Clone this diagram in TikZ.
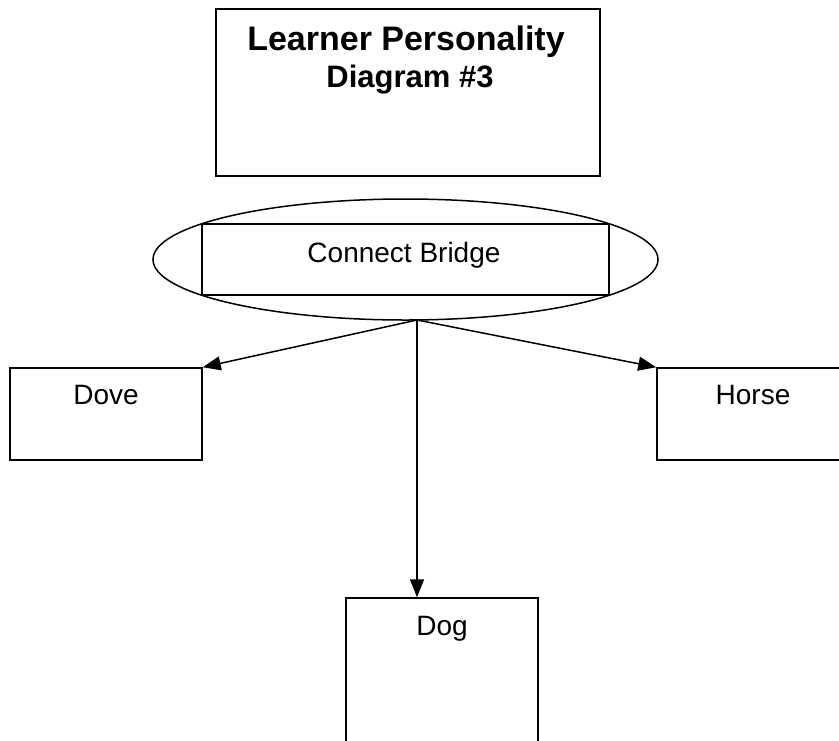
\documentclass[tikz,border=0pt]{standalone}
\usepackage{fontspec}
\setmainfont{Liberation Sans}
\usetikzlibrary{shapes.geometric,arrows.meta}
\tikzset{
 box/.style={draw,line width=1.5pt,rectangle,inner sep=0pt},
 txt/.style={inner sep=0pt,anchor=base,font=\fontsize{28}{32}\selectfont},
 link/.style={line width=1.5pt,-{Triangle[length=18pt,width=14pt]}}
}
\begin{document}
\begin{tikzpicture}[x=1pt,y=-1pt]
\path[use as bounding box,clip] (0,0) rectangle (839,740);
% title
\node[box,minimum width=384pt,minimum height=167pt] (title) at (408,92.5) {};
\node[txt,font=\bfseries\fontsize{34}{38}\selectfont] (titlea) at (406,50) {Learner Personality};
\node[txt,font=\bfseries\fontsize{31}{36}\selectfont] (titleb) at (410,87) {Diagram \#3};
% bridge
\node[draw,ellipse,line width=1.5pt,minimum width=505pt,minimum height=121pt] (ring) at (405.5,259.5) {};
\node[box,minimum width=407pt,minimum height=71pt] (bridge) at (405.5,259.5) {};
\node[txt] (bridgetxt) at (404,262) {Connect Bridge};
% animals
\foreach \n/\x/\y/\h/\t/\b in {
dove/106/414/92/Dove/404,
horse/753/414/92/Horse/404,
dog/442/689/182/Dog/635}
{
 \node[box,minimum width=192pt,minimum height=\h pt] (\n) at (\x,\y) {};
 \node[txt] (\n txt) at (\x,\b) {\t};
}
\coordinate (hub) at (417,320);
\draw[link] (hub) -- (dove.north east);
\draw[link] (hub) -- (horse.north west);
\draw[link] (hub) -- (hub |- dog.north);
\end{tikzpicture}
\end{document}
